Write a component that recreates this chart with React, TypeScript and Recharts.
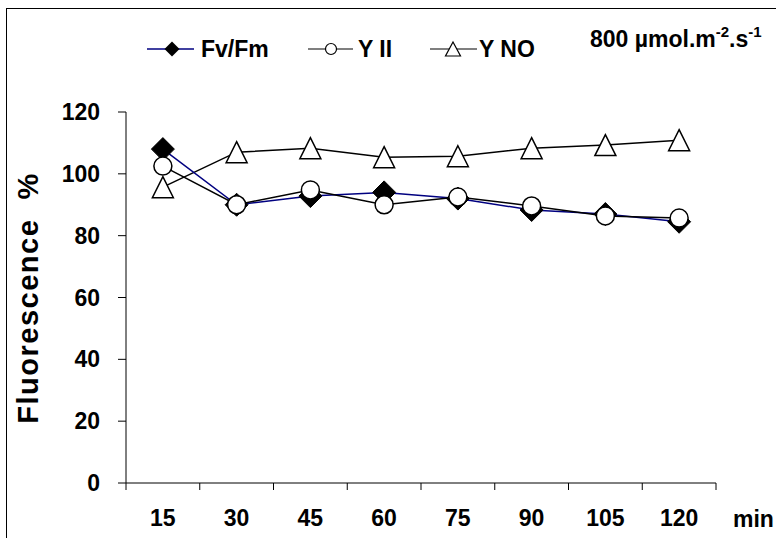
import React from "react"
import { LineChart, Line, XAxis, YAxis, Customized } from "recharts"

const MINUTES = [15, 30, 45, 60, 75, 90, 105, 120]
const FV_FM = [108, 90, 92.8, 94, 92, 88.3, 87, 84.5]
const Y_II = [102.5, 90, 94.8, 90, 92.5, 89.6, 86.4, 85.7]
const Y_NO = [95.7, 107, 108.3, 105.4, 105.7, 108.3, 109.3, 110.9]
const Y_TICKS = [0, 20, 40, 60, 80, 100, 120]
// tick marks sit between the categories, like the Excel original
const X_BOUNDS = [7.5, 22.5, 37.5, 52.5, 67.5, 82.5, 97.5, 112.5, 127.5]

const FONT = "'Liberation Sans', Arial, sans-serif"

const data = MINUTES.map((m, i) => ({ min: m, fvfm: FV_FM[i], yii: Y_II[i], yno: Y_NO[i] }))

function diamond(cx: number, cy: number, r: number) {
    return `${cx},${cy - r} ${cx + r},${cy} ${cx},${cy + r} ${cx - r},${cy}`
}

function triangle(cx: number, cy: number, w: number, h: number) {
    return `${cx},${cy - h / 2} ${cx + w / 2},${cy + h / 2} ${cx - w / 2},${cy + h / 2}`
}

const DiamondDot = (p: any) => (
    <polygon key={`d${p.index}`} points={diamond(p.cx, p.cy, 11.5)} fill="#000" stroke="#000" />
)
const CircleDot = (p: any) => (
    <circle key={`c${p.index}`} cx={p.cx} cy={p.cy} r={9} fill="#fff" stroke="#000" strokeWidth={1.5} />
)
const TriangleDot = (p: any) => (
    <polygon key={`t${p.index}`} points={triangle(p.cx, p.cy, 21, 21)} fill="#fff" stroke="#000" strokeWidth={1.5} />
)

function Overlay() {
    const txt = { fontFamily: FONT, fontWeight: 700, fill: "#000" } as const
    return (
        <g>
            {/* legend */}
            <line x1={147} y1={49} x2={194} y2={49} stroke="#000080" strokeWidth={1.5} />
            <polygon points={diamond(172, 49, 7.5)} fill="#000" />
            <text x={201} y={57} fontSize={23} {...txt}>Fv/Fm</text>

            <line x1={308} y1={49} x2={353} y2={49} stroke="#000" strokeWidth={1.2} />
            <circle cx={331} cy={49} r={5.5} fill="#fff" stroke="#000" strokeWidth={1.2} />
            <text x={358} y={57} fontSize={23} {...txt}>Y II</text>

            <line x1={430} y1={49} x2={477} y2={49} stroke="#000" strokeWidth={1.2} />
            <polygon points={triangle(453, 49, 15, 14)} fill="#fff" stroke="#000" strokeWidth={1.2} />
            <text x={479} y={57} fontSize={23} {...txt}>Y NO</text>

            <text x={590} y={47} fontSize={23} {...txt}>
                800 µmol.m
                <tspan fontSize={15} dy={-10}>-2</tspan>
                <tspan fontSize={23} dy={10}>.s</tspan>
                <tspan fontSize={15} dy={-10}>-1</tspan>
            </text>

            <text x={733} y={527} fontSize={23} {...txt}>min</text>

            <text
                transform="translate(38,298) rotate(-90)"
                textAnchor="middle"
                fontSize={29}
                letterSpacing={1.5}
                style={{ whiteSpace: "pre" }}
                {...txt}
            >
                {"Fluorescence  %"}
            </text>
        </g>
    )
}

export default function App() {
    const tickStyle = { fontFamily: FONT, fontWeight: 700, fontSize: 23, fill: "#000" }
    return (
        <div style={{ position: "absolute", left: 0, top: 0, width: 776, height: 538, overflow: "hidden", background: "#fff" }}>
            <div
                style={{
                    position: "absolute",
                    left: 6,
                    top: 8,
                    width: 800,
                    height: 600,
                    border: "1.5px solid #000",
                }}
            />
            <div style={{ position: "absolute", left: 0, top: 0 }}>
                <LineChart width={776} height={538} data={data} margin={{ top: 112, right: 60, bottom: 0, left: 66 }}>
                    <XAxis
                        dataKey="min"
                        type="number"
                        domain={[7.5, 127.5]}
                        ticks={X_BOUNDS}
                        tickFormatter={() => ""}
                        height={7}
                        tickSize={7}
                        stroke="#000"
                        interval={0}
                    />
                    <XAxis
                        xAxisId="labels"
                        dataKey="min"
                        type="number"
                        domain={[7.5, 127.5]}
                        ticks={MINUTES}
                        axisLine={false}
                        tickLine={false}
                        tickSize={0}
                        tickMargin={20}
                        height={48}
                        tick={tickStyle}
                        interval={0}
                    />
                    <YAxis
                        domain={[0, 120]}
                        ticks={Y_TICKS}
                        width={60}
                        tickSize={8}
                        tickMargin={18}
                        stroke="#000"
                        tick={tickStyle}
                        interval={0}
                    />
                    <Line
                        dataKey="yno"
                        stroke="#000"
                        strokeWidth={1.5}
                        dot={TriangleDot}
                        isAnimationActive={false}
                    />
                    <Line
                        dataKey="fvfm"
                        stroke="#000080"
                        strokeWidth={1.5}
                        dot={DiamondDot}
                        isAnimationActive={false}
                    />
                    <Line
                        dataKey="yii"
                        stroke="#000"
                        strokeWidth={1.5}
                        dot={CircleDot}
                        isAnimationActive={false}
                    />
                    <Customized component={Overlay} />
                </LineChart>
            </div>
        </div>
    )
}
